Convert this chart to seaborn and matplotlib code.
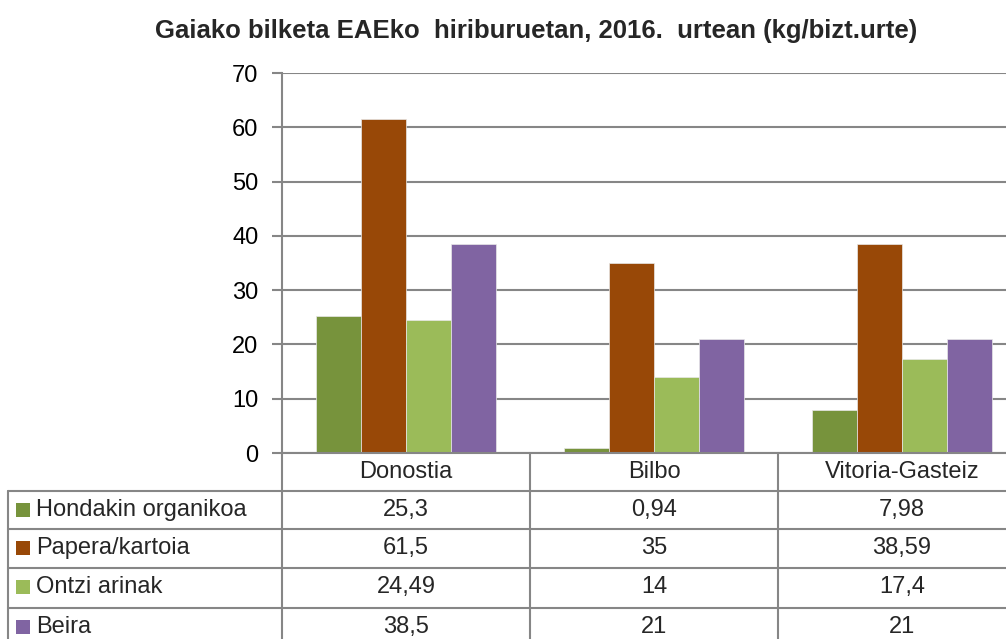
import pandas as pd
import matplotlib.pyplot as plt
import matplotlib.transforms as mtransforms
from matplotlib.lines import Line2D
from matplotlib.patches import Rectangle
import seaborn as sns

# datuak
cities = ['Donostia', 'Bilbo', 'Vitoria-Gasteiz']
types = ['Hondakin organikoa', 'Papera/kartoia', 'Ontzi arinak', 'Beira']
organikoa = [25.3, 0.94, 7.98]
papera = [61.5, 35, 38.59]
ontzi = [24.49, 14, 17.4]
beira = [38.5, 21, 21]
colors = ['#77933C', '#984807', '#9BBB59', '#8064A2']
title = 'Gaiako bilketa EAEko  hiriburuetan, 2016.  urtean (kg/bizt.urte)'

series = [organikoa, papera, ontzi, beira]
rows = []
for t, vals in zip(types, series):
    for c, v in zip(cities, vals):
        rows.append({'city': c, 'type': t, 'value': v})
df = pd.DataFrame(rows)

sns.set_style('white')
plt.rcParams['font.family'] = ['Liberation Sans', 'DejaVu Sans']

W, H = 1006, 639
fig = plt.figure(figsize=(W / 100, H / 100), dpi=100)

def fx(x):
    return x / W

def fy(y):
    return 1 - y / H

grid_col = '#868686'
fs = 17
ax = fig.add_axes([fx(282), fy(453), 744 / W, 380 / H])
sns.barplot(data=df, x='city', y='value', hue='type', order=cities, hue_order=types,
            palette=colors, saturation=1, width=0.726, edgecolor='#e8e8e8',
            linewidth=0.5, legend=False, ax=ax)
ax.set_xlim(-0.5, 2.5)
ax.set_ylim(0, 70)
ax.set_yticks(range(0, 71, 10))
ax.set_xticks([])
ax.set_xlabel('')
ax.set_ylabel('')
ax.yaxis.grid(True, color=grid_col, linewidth=1.5)
ax.set_axisbelow(True)
for s in ['top', 'right']:
    ax.spines[s].set_visible(False)
ax.spines['left'].set_color(grid_col)
ax.spines['left'].set_linewidth(1.5)
ax.spines['bottom'].set_color(grid_col)
ax.spines['bottom'].set_linewidth(1.5)
ax.tick_params(axis='y', length=7, width=1.5, color=grid_col, labelsize=fs,
               labelcolor='black', pad=10, left=True)

fig.text(0.533, fy(31), title, ha='center', va='center', fontsize=18.5,
         fontweight='bold')

# datu-taula
tr = mtransforms.blended_transform_factory(ax.transData, fig.transFigure)
lw = 1.5
row_lines = [491, 529, 568, 608, 647]
# bertikalak kategorien artean
for b in [-0.5, 0.5, 1.5, 2.5]:
    fig.add_artist(Line2D([b, b], [fy(453), fy(647)], transform=tr,
                          color=grid_col, linewidth=lw, clip_on=False))
# ezkerreko marra
fig.add_artist(Line2D([fx(8), fx(8)], [fy(491), fy(647)], color=grid_col, linewidth=lw))
for y in row_lines:
    fig.add_artist(Line2D([fx(8), 1.0], [fy(y), fy(y)], color=grid_col, linewidth=lw))

for i, c in enumerate(cities):
    fig.text(i, fy(472), c, transform=tr, ha='center', va='center', fontsize=fs)

tops = row_lines[:-1]
for t, vals, col, ytop in zip(types, series, colors, tops):
    yc = ytop + 19
    fig.add_artist(Rectangle((fx(16), fy(yc + 7)), 14 / W, 14 / H,
                             facecolor=col, edgecolor='none'))
    fig.text(fx(36), fy(yc), t, ha='left', va='center', fontsize=fs)
    for i, v in enumerate(vals):
        fig.text(i, fy(yc), f'{v:g}'.replace('.', ','), transform=tr,
                 ha='center', va='center', fontsize=fs)

fig.savefig('out.png', dpi=100)
